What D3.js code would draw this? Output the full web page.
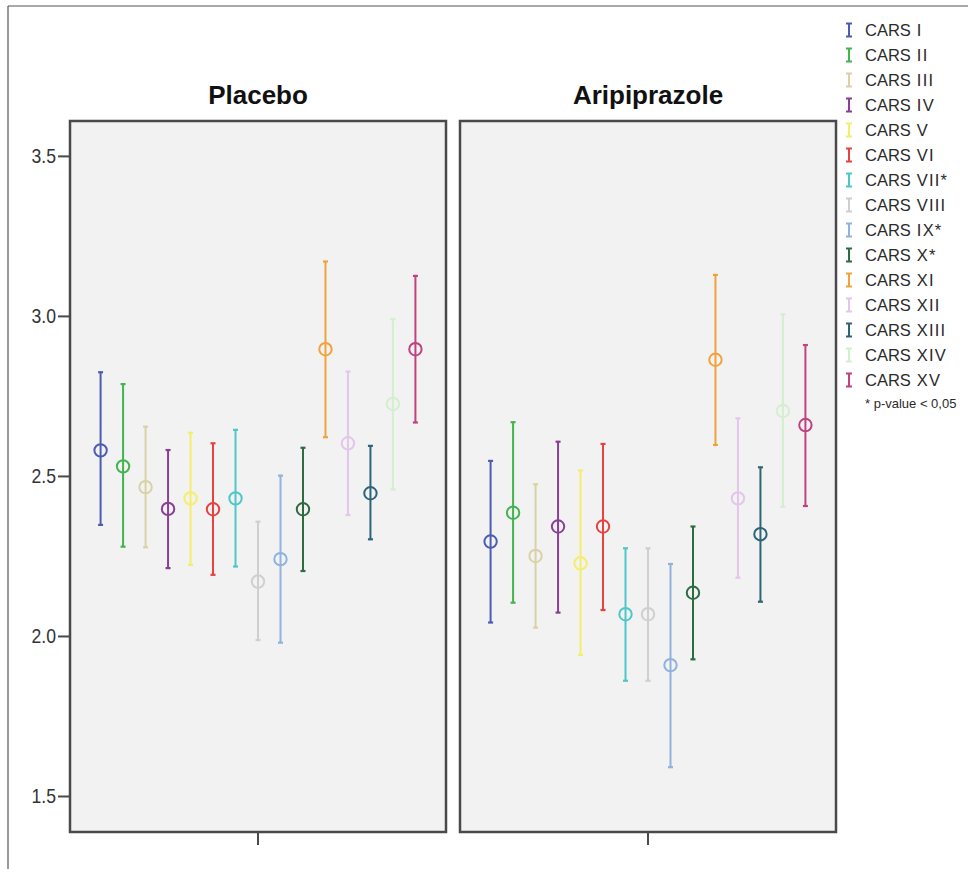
<!DOCTYPE html>
<html>
<head>
<meta charset="utf-8">
<script src="https://cdn.jsdelivr.net/npm/d3@7"></script>
<style>
  body { margin: 0; background: #fff; }
  text { font-family: "Liberation Sans", Arial, sans-serif; }
</style>
</head>
<body>
<div id="my_dataviz"></div>
<script>
// categories and groups
var items = ["CARS I", "CARS II", "CARS III", "CARS IV", "CARS V", "CARS VI", "CARS VII*", "CARS VIII",
             "CARS IX*", "CARS X*", "CARS XI", "CARS XII", "CARS XIII", "CARS XIV", "CARS XV"];
var groups = ["Placebo", "Aripiprazole"];
var colors = ["#4b5cb3", "#42b450", "#d8d2a6", "#8a3f96", "#f3ee6c", "#e6423f", "#4ec7c9", "#cfcfcf",
              "#8fb2df", "#2e6b40", "#f2a23c", "#e3c6ea", "#2d6476", "#d4efcf", "#c0427f"];

// means and 95% CI
var placeboMean  = [2.58, 2.53, 2.465, 2.397, 2.43, 2.396, 2.43, 2.17, 2.24, 2.396, 2.896, 2.602, 2.446, 2.725, 2.896];
var placeboLow   = [2.347, 2.279, 2.277, 2.212, 2.222, 2.191, 2.217, 1.987, 1.979, 2.203, 2.621, 2.378, 2.302, 2.458, 2.667];
var placeboHigh  = [2.824, 2.787, 2.654, 2.581, 2.635, 2.602, 2.644, 2.357, 2.501, 2.588, 3.17, 2.826, 2.594, 2.99, 3.125];
var aripMean     = [2.295, 2.385, 2.25, 2.342, 2.227, 2.342, 2.068, 2.068, 1.909, 2.135, 2.863, 2.43, 2.318, 2.703, 2.659];
var aripLow      = [2.042, 2.104, 2.026, 2.073, 1.941, 2.081, 1.86, 1.86, 1.59, 1.927, 2.597, 2.182, 2.107, 2.404, 2.406];
var aripHigh     = [2.547, 2.668, 2.474, 2.607, 2.517, 2.6, 2.274, 2.274, 2.225, 2.342, 3.128, 2.68, 2.527, 3.005, 2.909];
var yTicks = [1.5, 2.0, 2.5, 3.0, 3.5];

var W = 968, H = 869;
var panelTop = 121, panelBottom = 832, panelW = 376;
var panelX = [70, 460];

var svg = d3.select("#my_dataviz")
  .append("svg")
    .attr("width", W)
    .attr("height", H);

// outer frame (top + left lines)
svg.append("line").attr("x1", 8).attr("x2", W).attr("y1", 6).attr("y2", 6)
  .attr("stroke", "#555").attr("stroke-width", 1.2);
svg.append("line").attr("x1", 8).attr("x2", 8).attr("y1", 6).attr("y2", H)
  .attr("stroke", "#555").attr("stroke-width", 1.2);

var y = d3.scaleLinear()
    .domain([1.3875, 3.609])
    .range([panelBottom, panelTop]);

var x = d3.scalePoint()
    .domain(items)
    .range([0, panelW])
    .padding(1.36);

var data = [
  {name: groups[0], mean: placeboMean, low: placeboLow, high: placeboHigh},
  {name: groups[1], mean: aripMean, low: aripLow, high: aripHigh}
];

data.forEach(function(g, gi) {
  var p = svg.append("g").attr("transform", "translate(" + panelX[gi] + ",0)");

  p.append("rect")
    .attr("x", 0).attr("y", panelTop)
    .attr("width", panelW).attr("height", panelBottom - panelTop)
    .attr("fill", "#f2f2f2")
    .attr("stroke", "#4a4a4a")
    .attr("stroke-width", 2.5);

  p.append("text")
    .attr("x", panelW / 2).attr("y", 104)
    .attr("text-anchor", "middle")
    .style("font-size", "26px")
    .style("font-weight", "bold")
    .attr("fill", "#111")
    .text(g.name);

  // bottom tick at panel centre
  p.append("line")
    .attr("x1", panelW / 2).attr("x2", panelW / 2)
    .attr("y1", panelBottom).attr("y2", panelBottom + 13)
    .attr("stroke", "#4a4a4a").attr("stroke-width", 2);

  var rows = items.map(function(d, i) {
    return {item: d, mean: g.mean[i], low: g.low[i], high: g.high[i], color: colors[i]};
  });

  var bar = p.append("g").selectAll("g")
    .data(rows)
    .enter()
    .append("g");

  bar.append("line")
    .attr("x1", function(d) { return x(d.item); })
    .attr("x2", function(d) { return x(d.item); })
    .attr("y1", function(d) { return y(d.low); })
    .attr("y2", function(d) { return y(d.high); })
    .attr("stroke", function(d) { return d.color; })
    .attr("stroke-width", 2);

  ["low", "high"].forEach(function(k) {
    bar.append("line")
      .attr("x1", function(d) { return x(d.item) - 2.5; })
      .attr("x2", function(d) { return x(d.item) + 2.5; })
      .attr("y1", function(d) { return y(d[k]); })
      .attr("y2", function(d) { return y(d[k]); })
      .attr("stroke", function(d) { return d.color; })
      .attr("stroke-width", 2.2);
  });

  bar.append("circle")
    .attr("cx", function(d) { return x(d.item); })
    .attr("cy", function(d) { return y(d.mean); })
    .attr("r", 6.2)
    .attr("fill", "none")
    .attr("stroke", function(d) { return d.color; })
    .attr("stroke-width", 2);
});

// y axis on the left of the first panel
var yAxis = svg.append("g")
  .attr("transform", "translate(" + panelX[0] + ",0)")
  .call(d3.axisLeft(y).tickValues(yTicks).tickFormat(d3.format(".1f")).tickSize(12));
yAxis.select(".domain").remove();
yAxis.selectAll(".tick line").attr("stroke", "#4a4a4a").attr("stroke-width", 2);
yAxis.selectAll(".tick text")
  .attr("x", 0)
  .attr("transform", "translate(-14,0) scale(0.88,1)")
  .style("font-size", "20px")
  .style("font-family", "'Liberation Sans', Arial, sans-serif")
  .attr("fill", "#333");

// legend
var legend = svg.append("g").attr("transform", "translate(849,30)");
var entry = legend.selectAll("g")
  .data(items)
  .enter()
  .append("g")
  .attr("transform", function(d, i) { return "translate(0," + i * 25 + ")"; });

entry.append("path")
  .attr("d", "M-3,-6.5H3M0,-6.5V6.5M-3,6.5H3")
  .attr("stroke", function(d, i) { return colors[i]; })
  .attr("stroke-width", 2)
  .attr("fill", "none");

var label = entry.append("text")
  .attr("x", 16).attr("y", 6)
  .style("font-size", "16.5px")
  .attr("fill", "#2a2a2a");
label.append("tspan").text(function(d) { return d.split(" ")[0]; });
label.append("tspan")
  .attr("dx", 6)
  .style("letter-spacing", "1.2px")
  .text(function(d) { return d.split(" ")[1]; });

legend.append("text")
  .attr("x", 16).attr("y", 378)
  .style("font-size", "13px")
  .attr("fill", "#2a2a2a")
  .text("* p-value < 0,05");
</script>
</body>
</html>
